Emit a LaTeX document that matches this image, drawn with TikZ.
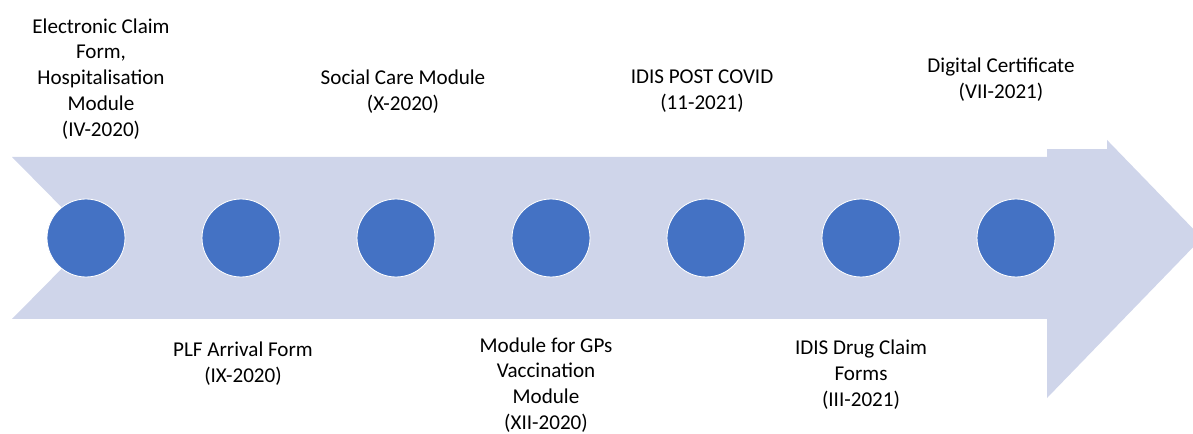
\documentclass[tikz,border=0pt]{standalone}
\usepackage{fontspec}
\setmainfont{Carlito}
\definecolor{arrowfill}{RGB}{207,213,234}
\definecolor{dotblue}{RGB}{68,114,196}
\begin{document}
\begin{tikzpicture}[
    milestone/.style={circle,fill=dotblue,draw=white,line width=0.6pt,
                      minimum size=1.95cm,inner sep=0pt},
    label/.style={align=center,inner sep=0pt,
                  font=\fontsize{15}{18.4}\selectfont}
  ]
    \useasboundingbox (0,0) rectangle (29.825,10.825);
    \clip (0,0) rectangle (29.825,10.825);

    % timeline arrow
    \fill[arrowfill] (0.3,6.9) -- (26.175,6.9) -- (26.175,8.875)
      -- (30.05,4.875) -- (26.175,0.875) -- (26.175,2.85)
      -- (0.3,2.85) -- (2.3,4.875) -- cycle;

    \node[milestone] (m1) at (2.15,4.875) {};
    \node[milestone] (m2) at (6.025,4.875) {};
    \node[milestone] (m3) at (9.9,4.875) {};
    \node[milestone] (m4) at (13.775,4.875) {};
    \node[milestone] (m5) at (17.65,4.875) {};
    \node[milestone] (m6) at (21.525,4.875) {};
    \node[milestone] (m7) at (25.4,4.875) {};

    \node[label] (ecf) at (2.525,8.85)
      {Electronic Claim\\Form,\\Hospitalisation\\Module\\(IV-2020)};
    \node[label] (plf) at (6.075,1.725) {PLF Arrival Form\\(IX-2020)};
    \node[label] (social) at (10.075,8.5375) {Social Care Module\\(X-2020)};
    \node[label] (gps) at (13.65,1.2)
      {Module for GPs\\Vaccination\\Module\\(XII-2020)};
    \node[label] (post) at (17.55,8.5375) {IDIS POST COVID\\(11-2021)};
    \node[label] (drug) at (21.525,1.4625)
      {IDIS Drug Claim\\Forms\\(III-2021)};
    \node[label,fill=white,minimum width=5.3cm,minimum height=3.45cm]
      (cert) at (25.025,8.825) {Digital Certificate\\(VII-2021)};
  \end{tikzpicture}
\end{document}
